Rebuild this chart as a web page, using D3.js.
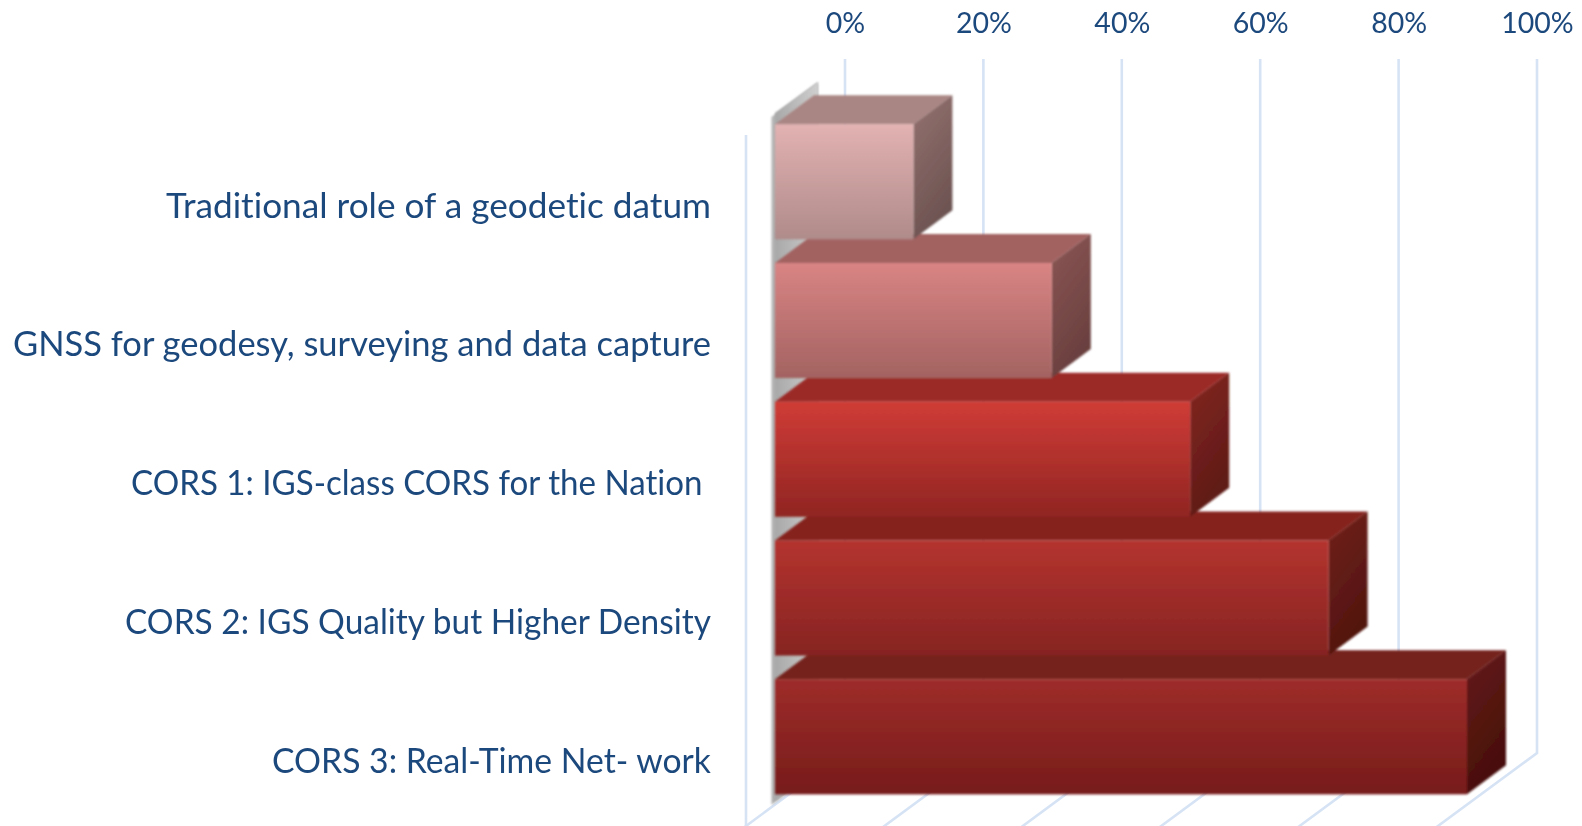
<!DOCTYPE html>
<html>
<head>
<meta charset="utf-8">
<script src="https://cdn.jsdelivr.net/npm/d3@7"></script>
<style>
html,body{margin:0;padding:0;background:#fff;overflow:hidden}
svg{display:block}
text{font-family:Lato,"Open Sans",sans-serif;fill:#1f497d;font-variant-ligatures:none}
.domain{display:none}
.tick line{display:none}
</style>
</head>
<body>
<svg id="c" width="1582" height="826"></svg>
<script>
const categories = [
  "Traditional role of a geodetic datum",
  "GNSS for geodesy, surveying and data capture",
  "CORS 1: IGS-class CORS for the Nation ",
  "CORS 2: IGS Quality but Higher Density",
  "CORS 3: Real-Time Net- work"
];
const values = [20, 40, 60, 80, 100];
const tickValues = [0, 20, 40, 60, 80, 100];

const frontTop = ["#e3b2b2", "#d98484", "#d03c37", "#b4332f", "#9e2c2a"];
const frontBottom = ["#af8b8a", "#a36361", "#902522", "#862422", "#771c1b"];
const topFace = ["#a98583", "#a26260", "#9b2926", "#85231f", "#75211c"];
const sideTop = ["#947270", "#8b5755", "#842620", "#72201a", "#651b17"];
const sideBottom = ["#6c5351", "#693f3e", "#5e1a17", "#51150f", "#470f0c"];
const labelWidths = [545, 698, 580, 586, 439];

const W = 1582, H = 826;
const svg = d3.select("#c");
const defs = svg.append("defs");

const x = d3.scaleLinear().domain([0, 100]).range([845, 1537]);
const y = d3.scaleBand().domain(categories).range([112.4, 806.2]).paddingInner(0.1712).paddingOuter(0.0856);

// 3D projection parameters
const barShift = -70, depthX = 39, depthY = -29;
const floorDX = -99, floorDY = 73, backTop = 59, backBottom = 753;

const makeBlur = (id, sd) => defs.append("filter").attr("id", id)
  .attr("filterUnits", "userSpaceOnUse")
  .attr("x", 0).attr("y", 0).attr("width", W).attr("height", H)
  .append("feGaussianBlur").attr("stdDeviation", sd);
makeBlur("soft", 0.9);
makeBlur("softGrid", 0.6);
makeBlur("softText", 0.45);

// gridlines
const gridColor = "#d6e3f5";
const grid = svg.append("g").attr("filter", "url(#softGrid)");
grid.selectAll("path.g").data(tickValues).join("path")
  .attr("class", "g")
  .attr("fill", "none").attr("stroke", gridColor).attr("stroke-width", 2.6)
  .attr("d", d => `M${x(d)},${backTop}V${backBottom}l${floorDX * 1.2},${floorDY * 1.2}`);
grid.append("path")
  .attr("fill", "none").attr("stroke", gridColor).attr("stroke-width", 2.6)
  .attr("d", `M${x(0) + floorDX},135V${backBottom + floorDY}`);

// grey wall behind the bars
const gg = defs.append("linearGradient").attr("id", "wall").attr("x1", 0).attr("x2", 0).attr("y1", 0).attr("y2", 1);
gg.append("stop").attr("offset", 0).attr("stop-color", "#b4b4b4");
gg.append("stop").attr("offset", 1).attr("stop-color", "#aeaeae");
const x0 = x(0) + barShift;
svg.append("path").attr("fill", "url(#wall)").attr("filter", "url(#soft)")
  .attr("d", `M${x0 - 3.5},117L${x0 + 43},82V770L${x0 - 3.5},805Z`);
const wallHi = defs.append("linearGradient").attr("id", "wallHi").attr("x1", 0).attr("x2", 1).attr("y1", 0).attr("y2", 0);
wallHi.append("stop").attr("offset", 0).attr("stop-color", "#a8a8a8");
wallHi.append("stop").attr("offset", 1).attr("stop-color", "#cfcfcf");
svg.append("path").attr("fill", "url(#wallHi)").attr("filter", "url(#soft)")
  .attr("d", `M${x0},113L${x0 + 43},82V770L${x0},801Z`);

// bars
categories.forEach((c, i) => {
  const f = defs.append("linearGradient").attr("id", "f" + i).attr("x1", 0).attr("x2", 0).attr("y1", 0).attr("y2", 1);
  f.append("stop").attr("offset", 0).attr("stop-color", frontTop[i]);
  f.append("stop").attr("offset", 1).attr("stop-color", frontBottom[i]);
  const s = defs.append("linearGradient").attr("id", "s" + i).attr("x1", 0).attr("x2", 0.35).attr("y1", 0).attr("y2", 1);
  s.append("stop").attr("offset", 0).attr("stop-color", sideTop[i]);
  s.append("stop").attr("offset", 1).attr("stop-color", sideBottom[i]);
});

// drawn bottom bar first, so each upper bar overlaps the top face of the one below
const bars = svg.append("g").attr("filter", "url(#soft)")
  .selectAll("g").data(categories.map((c, i) => i).reverse()).join("g");
bars.append("path").attr("fill", i => topFace[i])
  .attr("d", i => {
    const l = x(0) + barShift, r = x(values[i]) + barShift, t = y(categories[i]);
    return `M${l},${t}L${l + depthX},${t + depthY}L${r + depthX},${t + depthY}L${r},${t}Z`;
  });
bars.append("path").attr("fill", i => `url(#s${i})`)
  .attr("d", i => {
    const r = x(values[i]) + barShift, t = y(categories[i]), b = t + y.bandwidth();
    return `M${r},${t}L${r + depthX},${t + depthY}V${b + depthY}L${r},${b}Z`;
  });
bars.append("rect").attr("fill", i => `url(#f${i})`)
  .attr("x", x(0) + barShift)
  .attr("y", i => y(categories[i]))
  .attr("width", i => x(values[i]) - x(0))
  .attr("height", y.bandwidth());

// axes (the blur sits on an untransformed wrapper so its region covers the page)
const labelSize = 34, tickSize = 28.5;
const axes = svg.append("g").attr("filter", "url(#softText)");
const topAxis = axes.append("g").attr("transform", "translate(0,33)")
  .call(d3.axisTop(x).tickValues(tickValues).tickFormat(d => d + "%").tickSize(0).tickPadding(0));
topAxis.selectAll("text").style("font-size", tickSize + "px");

const leftAxis = axes.append("g").attr("transform", "translate(711,25)")
  .call(d3.axisLeft(y).tickSize(0).tickPadding(0));
leftAxis.selectAll("text").style("font-size", labelSize + "px").style("white-space", "pre")
  .attr("textLength", (d, i) => labelWidths[i]).attr("lengthAdjust", "spacingAndGlyphs");
[topAxis, leftAxis].forEach(a => a.attr("font-family", null).attr("font-size", null));
</script>
</body>
</html>
